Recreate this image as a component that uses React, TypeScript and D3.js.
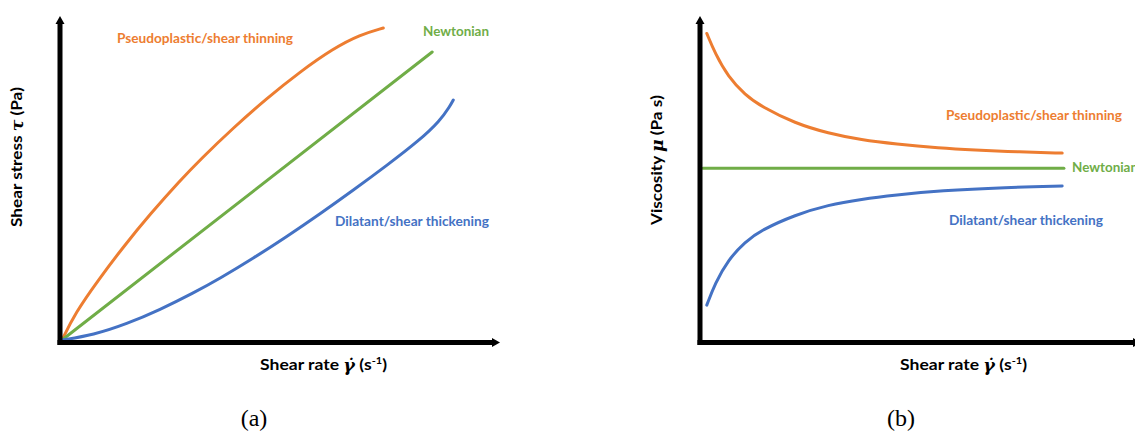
import React from "react";
import * as d3 from "d3";

// ---------- data (unitless schematic values, 0..100) ----------
type Pt = [number, number];
const thinningStress: Pt[] = [[0,0],[2.99,8.34],[8.34,18.75],[14.09,29.1],[20.23,39.3],[27.13,49.8],[31.72,56.3],[39.38,66.3],[47.06,75.5],[54.71,83.8],[62.37,91.1],[68.51,95.4],[73.86,97.5]];
const newtonianStress: Pt[] = [[0,0],[85.1,90]];
const thickeningStress: Pt[] = [[0,0],[7.2,1.56],[14.87,5.0],[22.53,9.45],[30.18,14.65],[36.32,19.25],[43.98,25.53],[51.66,32.29],[59.31,39.4],[66.97,46.83],[74.64,54.5],[82.3,62.54],[86.9,68.52],[89.2,73.1],[89.95,75]];

const thinningVisc: Pt[] = [[1.1,95.8],[3.0,89.6],[6.0,82.3],[9.9,76.6],[13.7,72.9],[21.4,67.7],[29.0,64.6],[36.7,62.5],[44.4,61.25],[54.7,60.0],[62.3,59.4],[73.1,58.75],[82.8,58.4]];
const newtonianVisc: Pt[] = [[0.2,53.7],[83.2,53.7]];
const thickeningVisc: Pt[] = [[1.1,10.9],[3.0,17.7],[6.0,25],[9.9,30.7],[13.7,34.4],[21.4,39.1],[29.0,42.2],[36.7,44.0],[44.4,45.3],[54.7,46.7],[70.1,47.7],[82.8,48.1]];

const seriesNames = ["Pseudoplastic/shear thinning", "Newtonian", "Dilatant/shear thickening"];
const colors = ["#ED7D31", "#70AD47", "#4472C4"];

const W = 1135, H = 434;
const labelFont = "Lato, 'Open Sans', sans-serif";

function Panel({ x0, series, labels, yLabel, yGreek, caption, captionX, axisEnd }: any) {
  const x = d3.scaleLinear().domain([0, 100]).range([x0, x0 + 435]);
  const y = d3.scaleLinear().domain([0, 100]).range([340, 20]);
  const line = d3.line<Pt>().x(d => x(d[0])).y(d => y(d[1])).curve(d3.curveBasis);
  const ax = x0 - 2; // y axis x
  const ay = 342.5; // x axis y
  return (
    <g>
      {series.map((s: Pt[], i: number) => (
        <path key={i} d={line(s) || ""} fill="none" stroke={colors[i]} strokeWidth={3} strokeLinecap="round" />
      ))}
      {/* axes */}
      <line x1={ax} y1={ay + 2.5} x2={ax} y2={22} stroke="#000" strokeWidth={5} />
      <path d={`M${ax - 4.5},24 L${ax},16 L${ax + 4.5},24 Z`} fill="#000" />
      <line x1={ax - 2.5} y1={ay} x2={axisEnd - 6} y2={ay} stroke="#000" strokeWidth={5} />
      <path d={`M${axisEnd - 8},${ay - 4.5} L${axisEnd},${ay} L${axisEnd - 8},${ay + 4.5} Z`} fill="#000" />
      {labels.map((l: any, i: number) => (
        <text key={i} x={l.x} y={l.y} fill={colors[i]} fontFamily={labelFont} fontWeight={700} fontSize={13.5}
          dominantBaseline="middle" textLength={l.w} lengthAdjust="spacingAndGlyphs">{seriesNames[i]}</text>
      ))}
      {/* y label */}
      <text transform={`translate(${yLabel.x},${yLabel.y}) rotate(-90)`} textAnchor="middle" dominantBaseline="middle"
        fontFamily={labelFont} fontWeight={700} fontSize={16} fill="#000" textLength={yLabel.w} lengthAdjust="spacingAndGlyphs">
        {yLabel.pre}<tspan fontFamily="'DejaVu Serif', serif" fontStyle="italic">{yGreek}</tspan>{yLabel.post}
      </text>
      {/* x label */}
      <text x={x0 + 198} y={366} dominantBaseline="middle" fontFamily={labelFont} fontWeight={700} fontSize={16} fill="#000"
        textLength={127} lengthAdjust="spacingAndGlyphs">
        Shear rate <tspan fontFamily="'DejaVu Serif', serif" fontStyle="italic">γ̇</tspan> (s<tspan fontSize={10} dy={-5}>-1</tspan><tspan dy={5}>)</tspan>
      </text>
      <text x={captionX} y={420} textAnchor="middle" dominantBaseline="middle" fontFamily="'Liberation Serif', 'DejaVu Serif', serif" fontSize={24} fill="#000">{caption}</text>
    </g>
  );
}

export default function App() {
  return (
    <svg width={W} height={H} style={{ position: "absolute", left: 0, top: 0, background: "#fff" }}>
      <rect width={W} height={H} fill="#fff" />
      <Panel x0={62} series={[thinningStress, newtonianStress, thickeningStress]}
        labels={[{ x: 117, y: 40, w: 176 }, { x: 423, y: 33, w: 66 }, { x: 335, y: 223, w: 154 }]}
        yLabel={{ x: 18, y: 157, w: 140, pre: "Shear stress ", post: " (Pa)" }} yGreek="τ"
        caption="(a)" captionX={254} axisEnd={500} />
      <Panel x0={702} series={[thinningVisc, newtonianVisc, thickeningVisc]}
        labels={[{ x: 946, y: 117, w: 176 }, { x: 1072, y: 169, w: 66 }, { x: 949, y: 222, w: 154 }]}
        yLabel={{ x: 658, y: 160, w: 130, pre: "Viscosity ", post: " (Pa s)" }} yGreek="μ"
        caption="(b)" captionX={901} axisEnd={1141} />
    </svg>
  );
}
